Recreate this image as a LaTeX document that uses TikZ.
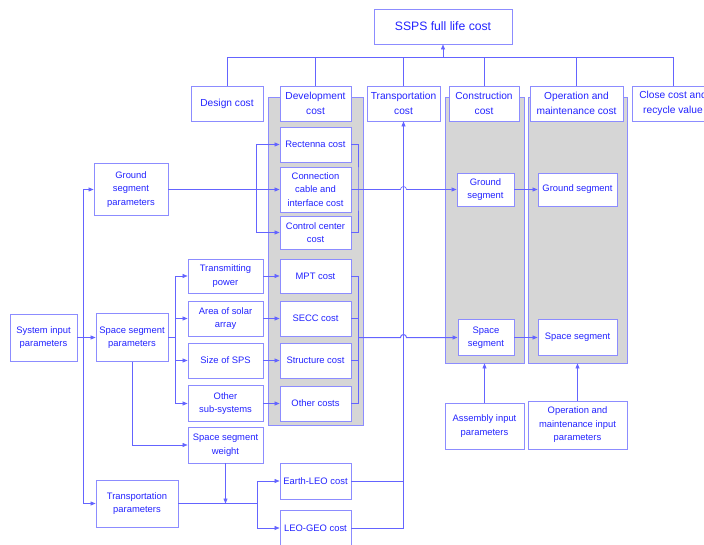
\documentclass[tikz,border=0pt]{standalone}
\usepackage{fontspec}
\setmainfont{Liberation Sans}
\usetikzlibrary{positioning}
\usetikzlibrary{backgrounds}
\usetikzlibrary{arrows.meta}

\definecolor{boxline}{RGB}{140,140,255}
\definecolor{wireblue}{RGB}{100,100,255}
\definecolor{textblue}{RGB}{35,35,255}
\definecolor{panelgray}{RGB}{214,214,214}

\begin{document}
\begin{tikzpicture}[x=1pt,y=-1pt,
		cbox/.style={fill = white, draw = boxline, line width = 0.9pt, rectangle, align = center, inner sep = 0.5pt, text = textblue, font = \fontsize{9.4}{13.5}\selectfont},
		topbox/.style={cbox, minimum height = 35pt, font = \fontsize{10.2}{15}\selectfont},
		panel/.style={fill = panelgray, draw = boxline, line width = 0.9pt, rectangle},
		wire/.style={draw = wireblue, line width = 0.6pt},
		arr/.style={wire, -{Triangle[length=5pt,width=4pt]}}]

		\useasboundingbox (0,0) rectangle (704,545);

		\node[cbox, minimum width = 138pt, minimum height = 35pt, font = \fontsize{12.2}{15}\selectfont] at (443,26.5) (total) {SSPS full life cost};

		\node[topbox, minimum width = 72pt] at (227,103.5) (design) {Design cost};
		\node[topbox, minimum width = 71pt] at (315.5,103.5) (dev) {Development\\cost};
		\node[topbox, minimum width = 73pt] at (403.5,103.5) (trans) {Transportation\\cost};
		\node[topbox, minimum width = 70pt] at (484,103.5) (constr) {Construction\\cost};
		\node[topbox, minimum width = 93pt] at (576.5,103.5) (om) {Operation and\\maintenance cost};
		\node[topbox, minimum width = 82pt] at (673,103.5) (close) {Close cost and\\recycle value};

		\node[cbox, minimum width = 71pt, minimum height = 35pt] at (315.5,144.5) (rect) {Rectenna cost};
		\node[cbox, minimum width = 71pt, minimum height = 45pt] at (315.5,189.5) (conn) {Connection\\cable and\\interface cost};
		\node[cbox, minimum width = 71pt, minimum height = 33pt] at (315.5,232.5) (ctrl) {Control center\\cost};
		\node[cbox, minimum width = 71pt, minimum height = 34pt] at (315.5,276) (mpt) {MPT cost};
		\node[cbox, minimum width = 71pt, minimum height = 35pt] at (315.5,318.5) (secc) {SECC cost};
		\node[cbox, minimum width = 71pt, minimum height = 35pt] at (315.5,360.5) (struct) {Structure cost};
		\node[cbox, minimum width = 71pt, minimum height = 35pt] at (315.5,403.5) (other) {Other costs};
		\node[cbox, minimum width = 71pt, minimum height = 36pt] at (315.5,481) (earthleo) {Earth-LEO cost};
		\node[cbox, minimum width = 71pt, minimum height = 36pt] at (315.5,528) (leogeo) {LEO-GEO cost};

		\node[cbox, minimum width = 75pt, minimum height = 34pt] at (225.5,276) (txpow) {Transmitting\\power};
		\node[cbox, minimum width = 75pt, minimum height = 35pt] at (225.5,318.5) (area) {Area of solar\\array};
		\node[cbox, minimum width = 75pt, minimum height = 35pt] at (225.5,360.5) (size) {Size of SPS};
		\node[cbox, minimum width = 75pt, minimum height = 36pt] at (225.5,403.5) (othersub) {Other\\sub-systems};
		\node[cbox, minimum width = 75pt, minimum height = 36pt] at (225.5,445) (weight) {Space segment\\weight};

		\node[cbox, minimum width = 67pt, minimum height = 47pt] at (43.5,337.5) (sysin) {System input\\parameters};
		\node[cbox, minimum width = 74pt, minimum height = 52pt] at (131,189.5) (groundpar) {Ground\\segment\\parameters};
		\node[cbox, minimum width = 72pt, minimum height = 48pt] at (132,337.5) (spacepar) {Space segment\\parameters};
		\node[cbox, minimum width = 82pt, minimum height = 47pt] at (137,503.5) (transpar) {Transportation\\parameters};

		\node[cbox, minimum width = 57pt, minimum height = 33pt] at (485.5,189.5) (gseg) {Ground\\segment};
		\node[cbox, minimum width = 56pt, minimum height = 36pt] at (486,337.5) (sseg) {Space\\segment};
		\node[cbox, minimum width = 79pt, minimum height = 33pt] at (577.5,189.5) (gsegom) {Ground segment};
		\node[cbox, minimum width = 79pt, minimum height = 36pt] at (577.5,337.5) (ssegom) {Space segment};
		\node[cbox, minimum width = 79pt, minimum height = 46pt] at (484.5,426) (asm) {Assembly input\\parameters};
		\node[cbox, minimum width = 99pt, minimum height = 48pt] at (577.5,425) (ominp) {Operation and\\maintenance input\\parameters};

		\coordinate (bus) at (443,57.5);
		\coordinate (lbus) at (83,337.5);
		\coordinate (sbus) at (175,337.5);
		\coordinate (tbus) at (257,503.5);
		\coordinate (gl) at (256,189.5);
		\coordinate (gr) at (358,189.5);
		\coordinate (sr) at (358,337.5);

		\begin{scope}[on background layer]
			\node[panel, minimum width = 95pt, minimum height = 328pt] at (315.5,261) (devpanel) {};
			\node[panel, minimum width = 79pt, minimum height = 266pt] at (484.5,230) (cpanel) {};
			\node[panel, minimum width = 99pt, minimum height = 266pt] at (577.5,230) (opanel) {};
		\end{scope}

		\draw[arr] (bus) -- (total.south);
		\draw[wire] (design.north) |- (bus) -| (close.north);
		\foreach \n in {dev,trans,constr,om}
			\draw[wire] (\n.north) -- (\n.north |- bus);

		\draw[arr] (sysin.east) -- (spacepar.west);
		\draw[arr] (lbus) |- (groundpar.west);
		\draw[arr] (lbus) |- (transpar.west);

		\draw[wire] (spacepar.east) -- (sbus);
		\foreach \n in {txpow,area,size,othersub}
			\draw[arr] (sbus) |- (\n.west);
		\draw[arr] (txpow) -- (mpt);
		\draw[arr] (area) -- (secc);
		\draw[arr] (size) -- (struct);
		\draw[arr] (othersub) -- (other);

		\draw[arr] (spacepar.south) |- (weight.west);
		\draw[arr] (weight.south) -- (weight.south |- tbus);
		\draw[wire] (transpar.east) -- (tbus);
		\draw[arr] (tbus) |- (earthleo.west);
		\draw[arr] (tbus) |- (leogeo.west);
		\draw[arr] (earthleo.east) -| (trans.south);
		\draw[wire] (leogeo.east) -| (earthleo.east -| trans.south);

		\draw[arr] (groundpar.east) -- (conn.west);
		\draw[arr] (gl) |- (rect.west);
		\draw[arr] (gl) |- (ctrl.west);
		\draw[wire] (rect.east) -| (gr) |- (ctrl.east);
		\draw[arr] (conn.east) -- ([xshift=-3pt]conn.east -| trans.south) arc[start angle=180, end angle=0, radius=3pt] -- (gseg.west);
		\draw[arr] (gseg) -- (gsegom);

		\draw[wire] (mpt.east) -| (sr);
		\draw[wire] (other.east) -| (sr);
		\draw[wire] (secc.east) -- (secc.east -| sr);
		\draw[wire] (struct.east) -- (struct.east -| sr);
		\draw[arr, line width = 1pt] (sr) -- ([xshift=-3pt]sr -| trans.south) arc[start angle=180, end angle=0, radius=3pt] -- (sseg.west);
		\draw[arr] (sseg) -- (ssegom);

		\draw[arr] (asm.north) -- (asm.north |- cpanel.south);
		\draw[arr] (ominp.north) -- (ominp.north |- opanel.south);
	\end{tikzpicture}
\end{document}
